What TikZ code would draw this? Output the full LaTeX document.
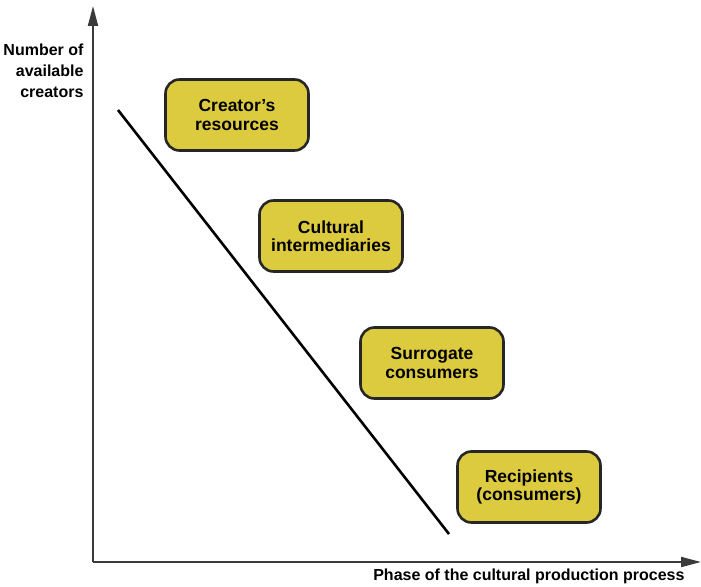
\documentclass[tikz,border=0pt]{standalone}
\usepackage{fontspec}
\setmainfont{Liberation Sans}
\usetikzlibrary{arrows.meta}
\definecolor{boxfill}{HTML}{DDCB3F}
\definecolor{axisgray}{HTML}{3A3A3A}
\tikzset{
    phasebox/.style={draw=black!85, line width=2.6pt, fill=boxfill, rounded corners=14pt,
        minimum width=143pt, minimum height=71pt, align=center,
        font=\bfseries\fontsize{17.5}{18.5}\selectfont},
    axisline/.style={draw=axisgray, line width=2pt, -{Triangle[length=20pt,width=10pt]}}
}
\begin{document}
\begin{tikzpicture}[x=1pt, y=-1pt]
        \useasboundingbox (0,0) rectangle (701,586);
        % Axes
        \coordinate (origin) at (93,562);
        \coordinate (ytop) at (93,6);
        \coordinate (xend) at (701,562);
        \draw[axisline] (origin) -- (ytop);
        \draw[axisline] (origin) -- (xend);
        % Axis labels
        \node[anchor=east, align=right, font=\bfseries\fontsize{16}{21}\selectfont] (ylabel) at (87,71) {Number of\\available\\creators};
        \node[anchor=east, font=\bfseries\fontsize{16}{18}\selectfont] (xlabel) at (688,576) {Phase of the cultural production process};
        % Trend line
        \coordinate (trendstart) at (118,110);
        \coordinate (trendend) at (449,534);
        \draw[black, line width=2.6pt] (trendstart) -- (trendend);
        % Phase boxes
        \foreach \name/\x/\y/\lbl in {res/237/115/{Creator's\\resources},
                                       inter/331/236/{Cultural\\intermediaries},
                                       surr/432/363/{Surrogate\\consumers},
                                       recip/529/487/{Recipients\\(consumers)}} {
            \node[phasebox] (\name) at (\x,\y) {\lbl};
        }
    \end{tikzpicture}
\end{document}
